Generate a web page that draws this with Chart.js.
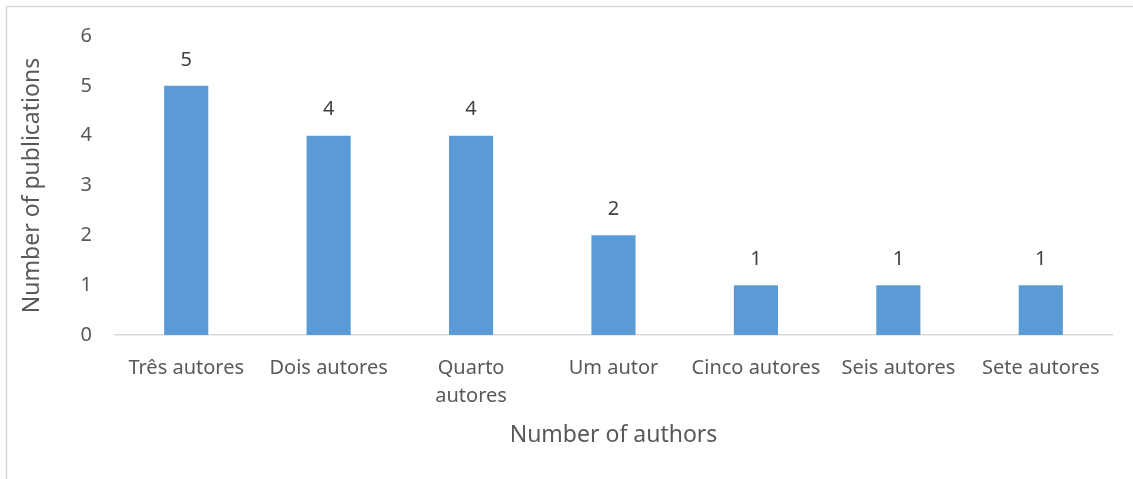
<!DOCTYPE html>
<html lang="en">
<head>
  <meta charset="UTF-8">
  <title>Number of authors</title>
  <script src="https://cdn.jsdelivr.net/npm/chart.js"></script>
</head>
<body style="margin:0; background:#fff;">

  <canvas id="authorsChart" width="1133" height="479"></canvas>

  <script>
    // data
    const categories = ['Três autores', 'Dois autores', ['Quarto', 'autores'], 'Um autor', 'Cinco autores', 'Seis autores', 'Sete autores'];
    const publications = [5, 4, 4, 2, 1, 1, 1];
    const yTicks = [0, 1, 2, 3, 4, 5, 6];

    const fontFamily = "'Noto Sans', sans-serif";

    // light frame like the exported office chart (only top/left visible)
    const framePlugin = {
      id: 'frame',
      beforeDraw(chart) {
        const ctx = chart.ctx;
        ctx.save();
        ctx.fillStyle = '#fff';
        ctx.fillRect(0, 0, chart.width, chart.height);
        ctx.strokeStyle = '#d9d9d9';
        ctx.lineWidth = 1.5;
        ctx.strokeRect(6.5, 6.5, chart.width + 10, chart.height + 10);
        ctx.restore();
      }
    };

    // value labels above each bar
    const valueLabels = {
      id: 'valueLabels',
      afterDatasetsDraw(chart) {
        const ctx = chart.ctx;
        const meta = chart.getDatasetMeta(0);
        ctx.save();
        ctx.font = '20px ' + fontFamily;
        ctx.fillStyle = '#404040';
        ctx.textAlign = 'center';
        ctx.textBaseline = 'middle';
        meta.data.forEach((bar, i) => {
          ctx.fillText(publications[i], bar.x, bar.y - 26);
        });
        ctx.restore();
      }
    };

    const ctx = document.getElementById('authorsChart').getContext('2d');
    new Chart(ctx, {
      type: 'bar',
      data: {
        labels: categories,
        datasets: [{
          label: 'Number of publications',
          data: publications,
          backgroundColor: '#5b9bd5',
          barPercentage: 0.31,
          categoryPercentage: 1
        }]
      },
      options: {
        responsive: false,
        animation: false,
        layout: { padding: { left: 6, top: 36, right: 21, bottom: 0 } },
        plugins: {
          legend: { display: false },
          tooltip: { enabled: false }
        },
        scales: {
          x: {
            grid: { display: false },
            border: { display: true, color: '#d9d9d9', width: 1.5 },
            ticks: {
              color: '#595959',
              font: { family: fontFamily, size: 20, lineHeight: 1.4 },
              padding: 11,
              maxRotation: 0,
              autoSkip: false
            },
            title: {
              display: true,
              text: 'Number of authors',
              color: '#595959',
              font: { family: fontFamily, size: 23 },
              padding: { top: 0, bottom: 30 }
            },
            afterFit(scale) { scale.height = 144; }
          },
          y: {
            min: 0,
            max: 6,
            afterBuildTicks(scale) { scale.ticks = yTicks.map(v => ({ value: v })); },
            grid: { display: false, drawTicks: false },
            border: { display: false },
            ticks: {
              color: '#595959',
              font: { family: fontFamily, size: 20 },
              padding: 23
            },
            title: {
              display: true,
              text: 'Number of publications',
              color: '#595959',
              font: { family: fontFamily, size: 23 },
              padding: { top: 13, bottom: 0 }
            },
            afterFit(scale) { scale.width = 109; }
          }
        }
      },
      plugins: [framePlugin, valueLabels]
    });
  </script>

</body>
</html>
